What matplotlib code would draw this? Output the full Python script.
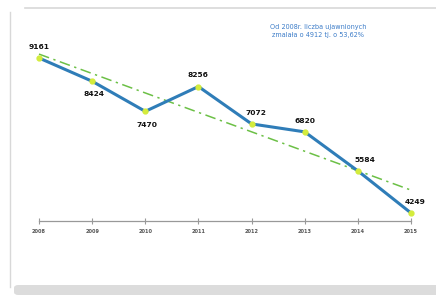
import numpy as np
import matplotlib.pyplot as plt
from matplotlib.patches import FancyBboxPatch
from matplotlib.lines import Line2D

years = [2008, 2009, 2010, 2011, 2012, 2013, 2014, 2015]
values = [9161, 8424, 7470, 8256, 7072, 6820, 5584, 4249]
# label offsets in points (dx, dy)
label_offsets = [(0, 8), (1, -9), (1, -10), (0, 8), (3, 8), (0, 8), (5, 8), (3, 8)]
note = 'Od 2008r. liczba ujawnionych\nzmalała o 4912 tj. o 53,62%'

fig = plt.figure(figsize=(4.36, 2.95), dpi=100)
fig.patch.set_facecolor('white')

# page frame around the chart
fig.add_artist(Line2D([25 / 436, 1], [1 - 8 / 295, 1 - 8 / 295], color='#d8d8d8', lw=1.2))
fig.add_artist(Line2D([10 / 436, 10 / 436], [1 - 12 / 295, 8 / 295], color='#d8d8d8', lw=1.0))
fig.add_artist(FancyBboxPatch((14 / 436, 0), 1, 10 / 295,
                              boxstyle='round,pad=0,rounding_size=0.01',
                              fc='#dcdcdc', ec='none'))

ax = fig.add_axes([39 / 436, 74 / 295, 372 / 436, 181 / 295])
ax.set_xlim(2008, 2015)
ax.set_ylim(3996, 9731)

# trend line
coef = np.polyfit(years, values, 1)
trend = np.polyval(coef, years)
ax.plot(years, trend, color='#6cc046', lw=1.1, ls=(0, (7, 3, 1.5, 3)), clip_on=False, zorder=2)

ax.plot(years, values, color='#2f7db8', lw=2.2, clip_on=False, zorder=3)
ax.plot(years, values, ls='none', marker='o', ms=3.5, mfc='#d4ec3c', mec='#d4ec3c',
        clip_on=False, zorder=4)

for x, v, (dx, dy) in zip(years, values, label_offsets):
    ax.annotate(str(v), (x, v), xytext=(dx, dy), textcoords='offset points',
                ha='center', va='center', fontsize=5.4, fontweight='bold', color='#111111')

for s in ['top', 'right', 'left']:
    ax.spines[s].set_visible(False)
ax.spines['bottom'].set_color('#999999')
ax.spines['bottom'].set_linewidth(0.9)
ax.set_yticks([])
ax.set_xticks(years)
ax.set_xticklabels([str(y) for y in years], fontweight='bold')
ax.tick_params(axis='x', direction='inout', length=4, width=0.8, color='#999999',
               labelsize=3.6, labelcolor='#555555', pad=4)

fig.text(318 / 436, 1 - 31 / 295, note, ha='center', va='center', fontsize=4.7,
         color='#3c7cc8', linespacing=1.2)

fig.savefig('out.png', dpi=100)
